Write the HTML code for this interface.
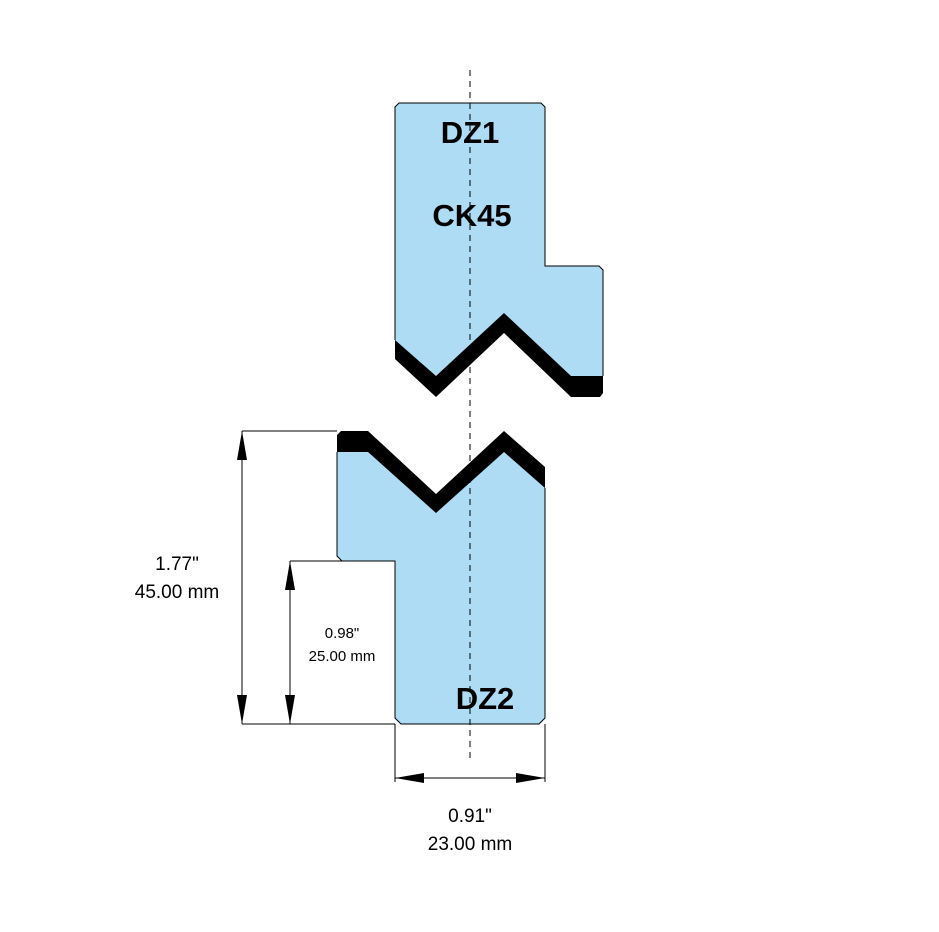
<!DOCTYPE html>
<html><head><style>body{margin:0;background:#fff}svg{display:block}</style></head><body>
<svg width="939" height="932" viewBox="0 0 939 932" xmlns="http://www.w3.org/2000/svg">
<!-- upper die -->
<polygon points="395,107 399,103 541,103 545,107 545,266 599,266 603,270 603,393 600,397 571,397 504,333 436,397 395,359" fill="#000"/>
<polygon points="395,107 399,103 541,103 545,107 545,266 599,266 603,270 603,376 571,376 504,313 436,376 395,340" fill="#addcf4"/>
<polyline points="395,340 395,107 399,103 541,103 545,107 545,266 599,266 603,270 603,376" fill="none" stroke="#000" stroke-width="1"/>
<!-- lower die -->
<polygon points="337,435 341,431 368,431 436,494 504,431 545,467 545,718 539,724 401,724 395,718 395,561 342,561 337,556" fill="#000"/>
<polygon points="337,452 368,452 436,513 504,452 545,488 545,718 539,724 401,724 395,718 395,561 342,561 337,556" fill="#addcf4"/>
<polyline points="337,452 337,556 342,561 395,561 395,718 401,724 539,724 545,718 545,488" fill="none" stroke="#000" stroke-width="1"/>
<!-- centerline -->
<line x1="470" y1="70" x2="470" y2="760" stroke="#000" stroke-width="1" stroke-dasharray="6,5"/>
<!-- dims -->
<g stroke="#000" stroke-width="1" fill="none">
<line x1="242" y1="431" x2="337" y2="431"/>
<line x1="242" y1="724" x2="395" y2="724"/>
<line x1="242" y1="431" x2="242" y2="724"/>
<line x1="290" y1="561" x2="395" y2="561"/>
<line x1="290" y1="561" x2="290" y2="724"/>
<line x1="395" y1="724" x2="395" y2="782"/>
<line x1="545" y1="724" x2="545" y2="782"/>
<line x1="395" y1="778" x2="545" y2="778"/>
</g>
<g fill="#000">
<polygon points="242,431 237,460 247,460"/>
<polygon points="242,724 237,695 247,695"/>
<polygon points="290,561 285,590 295,590"/>
<polygon points="290,724 285,695 295,695"/>
<polygon points="395,778 424,773 424,783"/>
<polygon points="545,778 516,773 516,783"/>
</g>
<g font-family="Liberation Sans, sans-serif" fill="#000" text-anchor="middle">
<text x="470" y="143" font-size="31" font-weight="bold">DZ1</text>
<text x="472" y="226" font-size="31" font-weight="bold">CK45</text>
<text x="485" y="709" font-size="31" font-weight="bold">DZ2</text>
<text x="177" y="570" font-size="19">1.77"</text>
<text x="177" y="598" font-size="19">45.00 mm</text>
<text x="342" y="638" font-size="15">0.98"</text>
<text x="342" y="661" font-size="15">25.00 mm</text>
<text x="470" y="822" font-size="19">0.91"</text>
<text x="470" y="850" font-size="19">23.00 mm</text>
</g>
</svg>
</body></html>
